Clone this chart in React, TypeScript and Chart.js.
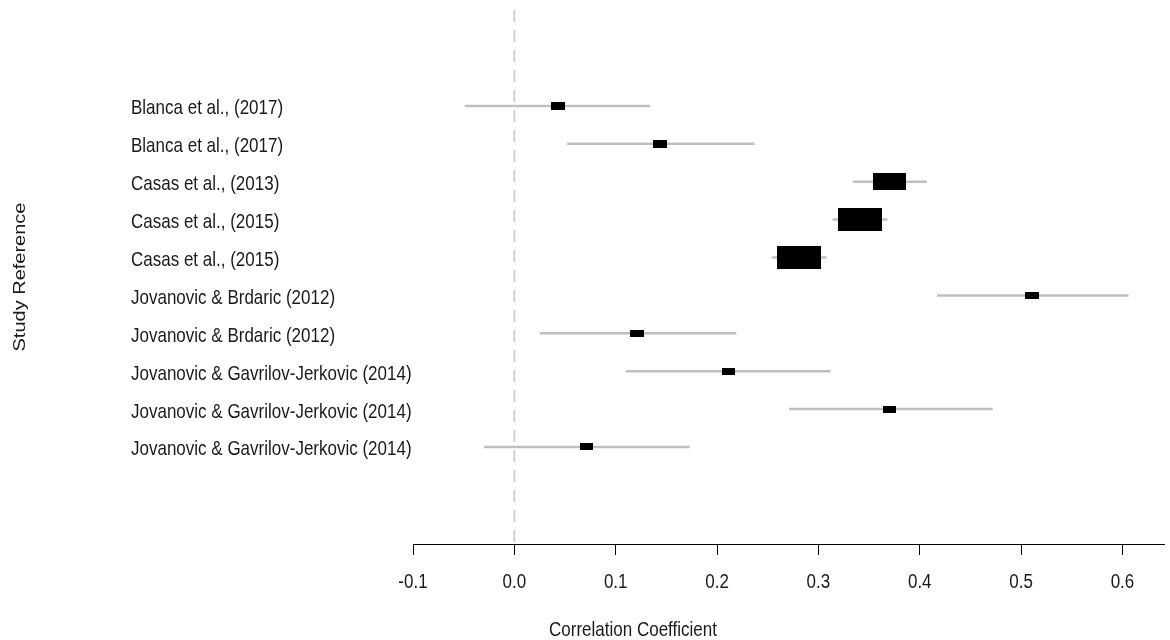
import React, { useEffect, useRef } from 'react';
import { Chart, registerables } from 'chart.js';

Chart.register(...registerables);

// ---------------- data ----------------
const studies = [
  'Blanca et al., (2017)',
  'Blanca et al., (2017)',
  'Casas et al., (2013)',
  'Casas et al., (2015)',
  'Casas et al., (2015)',
  'Jovanovic & Brdaric (2012)',
  'Jovanovic & Brdaric (2012)',
  'Jovanovic & Gavrilov-Jerkovic (2014)',
  'Jovanovic & Gavrilov-Jerkovic (2014)',
  'Jovanovic & Gavrilov-Jerkovic (2014)',
];
const estimates = [0.043, 0.144, 0.370, 0.341, 0.281, 0.511, 0.121, 0.211, 0.370, 0.071];
const ciLower = [-0.049, 0.052, 0.334, 0.314, 0.254, 0.417, 0.025, 0.110, 0.271, -0.030];
const ciUpper = [0.134, 0.237, 0.407, 0.368, 0.308, 0.606, 0.219, 0.312, 0.472, 0.173];
const xTicks = [-0.1, 0.0, 0.1, 0.2, 0.3, 0.4, 0.5, 0.6];
const xTickLabels = ['-0.1', '0.0', '0.1', '0.2', '0.3', '0.4', '0.5', '0.6'];
const refLineValue = 0;
const xAxisTitle = 'Correlation Coefficient';
const yAxisTitle = 'Study Reference';

// ---------------- layout / style constants ----------------
const W = 1170;
const H = 640;
const X_MIN = -0.1;
const X_MAX = 0.641;
const Y_MIN = -1.56;
const Y_MAX = 12.53;
const TEXT = '#1a1a1a';
const CI_COLOR = '#bfbfbf';
const REF_COLOR = '#d0d0d0';
const FONT = '17px "Liberation Sans", Arial, sans-serif';
const STRETCH = 1.18;

function boxCanvas(w: number, h: number): HTMLCanvasElement {
  const c = document.createElement('canvas');
  c.width = Math.max(1, w);
  c.height = Math.max(1, h);
  const x = c.getContext('2d')!;
  x.fillStyle = '#000';
  x.fillRect(0, 0, c.width, c.height);
  return c;
}

function stretchedText(
  ctx: CanvasRenderingContext2D,
  text: string,
  x: number,
  y: number,
  align: CanvasTextAlign,
) {
  ctx.save();
  ctx.translate(x, y);
  ctx.scale(1, STRETCH);
  ctx.font = FONT;
  ctx.textAlign = align;
  ctx.textBaseline = 'alphabetic';
  ctx.fillText(text, 0, 0);
  ctx.restore();
}

export default function App() {
  const ref = useRef<HTMLCanvasElement | null>(null);

  useEffect(() => {
    if (!ref.current) return;
    const n = studies.length;
    const rowY = (i: number) => n - i;

    // metafor-style point sizes: proportional to 1/SE, rescaled to [0.5, 1.5]
    const inv = ciLower.map((lo, i) => 1 / (ciUpper[i] - lo));
    const minW = Math.min(...inv);
    const maxW = Math.max(...inv);
    const psize = inv.map((w) => (w - minW) / (maxW - minW) + 0.5);
    const boxes = psize.map((p) => boxCanvas(Math.round(31 * p - 2.5), Math.round(16 * p - 1)));

    const ciDatasets = studies.map((_, i) => ({
      type: 'scatter' as const,
      label: 'ci' + i,
      data: [
        { x: ciLower[i], y: rowY(i) },
        { x: ciUpper[i], y: rowY(i) },
      ],
      showLine: true,
      borderColor: CI_COLOR,
      borderWidth: 2.5,
      pointRadius: 0,
      order: 1,
    }));

    const textPlugin = {
      id: 'axisText',
      afterDraw(chart: any) {
        const ctx = chart.ctx as CanvasRenderingContext2D;
        const xs = chart.scales.x;
        const ys = chart.scales.y;
        ctx.save();
        ctx.fillStyle = TEXT;
        // x tick labels
        xs.ticks.forEach((t: any, idx: number) => {
          const px = xs.getPixelForValue(t.value);
          stretchedText(ctx, xTickLabels[idx], px, xs.top + 44, 'center');
        });
        // y tick labels (study names), left aligned
        ys.ticks.forEach((t: any) => {
          const py = ys.getPixelForValue(t.value);
          const label = studies[n - Math.round(t.value)];
          stretchedText(ctx, label, ys.left, py + 8.5, 'left');
        });
        // x axis title
        stretchedText(ctx, xAxisTitle, 633, 636, 'center');
        // y axis title (rotated)
        const cy = (ys.top + ys.bottom) / 2;
        ctx.save();
        ctx.translate(25, cy);
        ctx.rotate(-Math.PI / 2);
        ctx.scale(1, 1 / STRETCH);
        ctx.font = '20px "Liberation Sans", Arial, sans-serif';
        ctx.textAlign = 'center';
        ctx.textBaseline = 'alphabetic';
        ctx.fillText(yAxisTitle, 0, 0);
        ctx.restore();
        ctx.restore();
      },
    };

    const chart = new Chart(ref.current, {
      type: 'scatter',
      data: {
        datasets: [
          {
            label: 'estimates',
            data: estimates.map((v, i) => ({ x: v, y: rowY(i) })),
            pointStyle: (c: any) => boxes[c.dataIndex] || 'rect',
            pointRadius: 5,
            pointHoverRadius: 5,
            order: 0,
          } as any,
          ...ciDatasets,
          {
            label: 'ref',
            data: [
              { x: refLineValue, y: Y_MAX },
              { x: refLineValue, y: Y_MIN },
            ],
            showLine: true,
            borderColor: REF_COLOR,
            borderWidth: 2,
            borderDash: [12, 8],
            pointRadius: 0,
            order: 2,
          },
        ],
      },
      options: {
        animation: false,
        responsive: false,
        devicePixelRatio: 1,
        events: [],
        layout: { padding: { left: 131, top: 10, right: 2, bottom: 0 } },
        plugins: {
          legend: { display: false },
          tooltip: { enabled: false },
        },
        scales: {
          x: {
            type: 'linear',
            min: X_MIN,
            max: X_MAX,
            afterBuildTicks: (scale: any) => {
              scale.ticks = xTicks.map((value) => ({ value }));
            },
            afterFit: (scale: any) => {
              scale.height = H - 544;
            },
            grid: {
              drawOnChartArea: false,
              drawTicks: true,
              tickLength: 11,
              color: '#000',
              lineWidth: 1,
            },
            border: { display: true, color: '#000', width: 1 },
            ticks: { display: false, autoSkip: false, maxRotation: 0 },
          },
          y: {
            type: 'linear',
            min: Y_MIN,
            max: Y_MAX,
            afterBuildTicks: (scale: any) => {
              scale.ticks = studies.map((_, i) => ({ value: rowY(i) }));
            },
            afterFit: (scale: any) => {
              scale.width = 413 - 131;
            },
            grid: { display: false, drawTicks: false },
            border: { display: false },
            ticks: { display: false, autoSkip: false },
          },
        },
      },
      plugins: [textPlugin],
    } as any);

    return () => chart.destroy();
  }, []);

  return (
    <div style={{ position: 'absolute', left: 0, top: 0, width: W, height: H, background: '#fff' }}>
      <canvas ref={ref} width={W} height={H} style={{ display: 'block', width: W, height: H }} />
    </div>
  );
}
